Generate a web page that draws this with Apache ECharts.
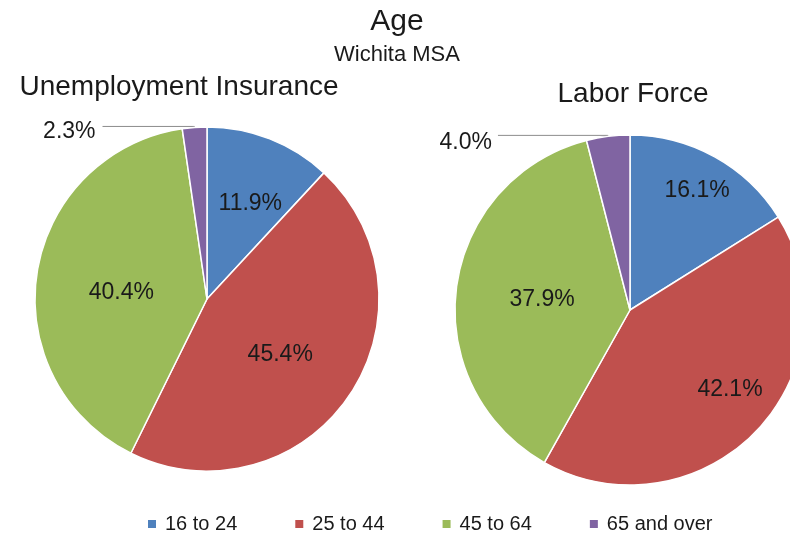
<!DOCTYPE html>
<html>
<head>
<meta charset="utf-8">
<script src="https://cdn.jsdelivr.net/npm/echarts@6/dist/echarts.min.js"></script>
<style>html,body{margin:0;padding:0;background:#fff}#c{width:790px;height:535px}</style>
</head>
<body>
<div id="c"></div>
<script>
const categories = ['16 to 24', '25 to 44', '45 to 64', '65 and over'];
const uiValues = [11.9, 45.4, 40.4, 2.3];
const lfValues = [16.1, 42.1, 37.9, 4.0];
const colors = ['#4F81BD', '#C0504D', '#9BBB59', '#8064A2'];

const FONT = 'Liberation Sans, Arial, sans-serif';
// label placement styling: radial factor relative to default + pixel nudges
const pies = [
  {name: 'Unemployment Insurance', values: uiValues, center: [207, 299], r: 172,
   factors: [1.24, 1.04, 1.02, 1], shifts: [[3, 7], [-3, 3], [4, 8], [-2, 5]], len2: 92},
  {name: 'Labor Force', values: lfValues, center: [630, 310], r: 175,
   factors: [1.6, 1.48, 1.08, 1], shifts: [[-3, 7], [3, -13], [9, 2], [-1, 7]], len2: 110}
];

const chart = echarts.init(document.getElementById('c'), null, {renderer: 'canvas'});

const series = pies.map((p) => ({
  type: 'pie',
  name: p.name,
  center: p.center,
  radius: [0, p.r],
  startAngle: 90,
  clockwise: true,
  silent: true,
  itemStyle: {borderColor: '#fff', borderWidth: 1.5},
  label: {
    show: true,
    position: 'inside',
    formatter: d => d.value.toFixed(1) + '%',
    color: '#1a1a1a',
    fontFamily: FONT,
    fontSize: 23
  },
  labelLine: {show: false},
  labelLayout: function (params) {
    const i = params.dataIndex;
    const f = p.factors[i];
    const s = p.shifts[i];
    const lr = params.labelRect;
    const lx = lr.x + lr.width / 2, ly = lr.y + lr.height / 2;
    return {dx: (lx - p.center[0]) * (f - 1) + s[0], dy: (ly - p.center[1]) * (f - 1) + s[1]};
  },
  data: categories.map((c, i) => {
    const item = {name: c, value: p.values[i], itemStyle: {color: colors[i]}};
    if (i === 3) {
      item.label = {position: 'outside', color: '#1a1a1a', fontSize: 23, fontFamily: FONT};
      item.labelLine = {show: true, length: 1, length2: p.len2, smooth: false, lineStyle: {color: '#8c8c8c', width: 1}};
    }
    return item;
  })
}));

chart.setOption({
  animation: false,
  color: colors,
  title: [
    {text: 'Age', left: 392, top: 2, textAlign: 'center', textStyle: {fontFamily: FONT, fontSize: 30, fontWeight: 'normal', color: '#1a1a1a'}},
    {text: 'Wichita MSA', left: 392, top: 39, textAlign: 'center', textStyle: {fontFamily: FONT, fontSize: 22, fontWeight: 'normal', color: '#1a1a1a'}},
    {text: 'Unemployment Insurance', left: 174, top: 68, textAlign: 'center', textStyle: {fontFamily: FONT, fontSize: 28, fontWeight: 'normal', color: '#1a1a1a'}},
    {text: 'Labor Force', left: 628, top: 75, textAlign: 'center', textStyle: {fontFamily: FONT, fontSize: 28, fontWeight: 'normal', color: '#1a1a1a'}}
  ],
  legend: {
    data: categories,
    left: 141,
    top: 509,
    itemWidth: 10,
    itemHeight: 10,
    itemGap: 56,
    icon: 'rect',
    selectedMode: false,
    textStyle: {fontFamily: FONT, fontSize: 20, color: '#1a1a1a', padding: [0, 0, 0, 3]}
  },
  series: series
});
</script>
</body>
</html>
